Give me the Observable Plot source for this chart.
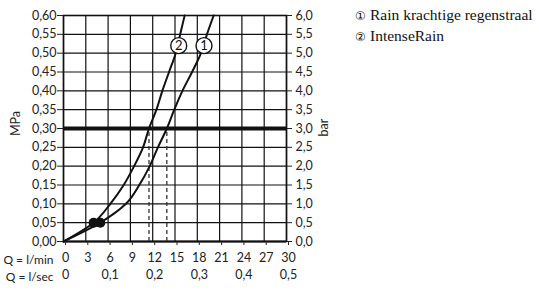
<!DOCTYPE html>
<html>
<head>
<meta charset="utf-8">
<script src="https://cdn.jsdelivr.net/npm/d3@7"></script>
<script src="https://cdn.jsdelivr.net/npm/@observablehq/plot@0.6"></script>
<style>
  body { margin: 0; background: #fff; }
  #wrap { position: relative; width: 539px; height: 292px; }
  #legend { position: absolute; left: 355px; top: 5px; font-family: "Liberation Serif", serif; font-size: 15.5px; color: #111; line-height: 19px; white-space: nowrap; }
  #legend .n { font-size: 12px; margin-right: 4px; }
</style>
</head>
<body>
<div id="wrap">
  <div id="chart"></div>
  <div id="legend"></div>
</div>
<script>
// Series: flow Q (l/min) vs pressure p (MPa)
const series1Name = "Rain krachtige regenstraal";
const series1Q = [0, 4.95, 8.4, 10.2, 11.6, 12.7, 13.9, 14.9, 16.0, 17.3, 18.5, 19.3, 20.2];
const series1P = [0, 0.05, 0.10, 0.15, 0.20, 0.25, 0.30, 0.35, 0.40, 0.45, 0.50, 0.55, 0.60];
const series2Name = "IntenseRain";
const series2Q = [0, 4.05, 6.3, 8.1, 9.5, 10.7, 11.5, 12.5, 13.3, 14.2, 15.1, 15.7, 16.3];
const series2P = [0, 0.05, 0.10, 0.15, 0.20, 0.25, 0.30, 0.35, 0.40, 0.45, 0.50, 0.55, 0.60];
// marker dots at 0.05 MPa
const markerQ = [4.05, 4.95];
const markerP = [0.05, 0.05];
// working pressure and corresponding flows
const refPressure = 0.30;
const refFlowQ = [11.5, 13.9];
// curve label circles
const labelText = ["2", "1"];
const labelQ = [15.5, 18.9];
const labelP = [0.52, 0.52];
// ticks
const qTicks = [0, 3, 6, 9, 12, 15, 18, 21, 24, 27, 30];
const secTicks = [0, 6, 12, 18, 24, 30];
const secLabels = ["0", "0,1", "0,2", "0,3", "0,4", "0,5"];
const mpaTicks = [0, 0.05, 0.10, 0.15, 0.20, 0.25, 0.30, 0.35, 0.40, 0.45, 0.50, 0.55, 0.60];

const s1 = series1Q.map((q, i) => ({q, p: series1P[i]}));
const s2 = series2Q.map((q, i) => ({q, p: series2P[i]}));
const markers = markerQ.map((q, i) => ({q, p: markerP[i]}));
const labels = labelQ.map((q, i) => ({q, p: labelP[i], t: labelText[i]}));
const secMap = new Map(secTicks.map((t, i) => [t, secLabels[i]]));
const comma = s => s.replace(".", ",");

const font = "Lato, sans-serif";
const chart = Plot.plot({
  width: 539,
  height: 292,
  marginLeft: 63,
  marginRight: 253,
  marginTop: 15,
  marginBottom: 51,
  style: { fontFamily: font, fontSize: "12px", color: "#222", background: "#fff" },
  x: { domain: [0, 30] },
  y: { domain: [0, 0.6] },
  marks: [
    Plot.gridX(qTicks, { stroke: "#111", strokeOpacity: 1, strokeWidth: 1.2 }),
    Plot.gridY(mpaTicks, { stroke: "#111", strokeOpacity: 1, strokeWidth: 1.2 }),
    Plot.frame({ stroke: "#111", strokeWidth: 1.6 }),
    Plot.ruleY([0], { stroke: "#111", strokeWidth: 2.2 }),
    Plot.ruleX(refFlowQ, { y1: 0, y2: refPressure, stroke: "#333", strokeWidth: 1.3, strokeDasharray: "4,3" }),
    Plot.ruleY([refPressure], { stroke: "#111", strokeWidth: 4 }),
    Plot.line(s1, { x: "q", y: "p", curve: "monotone-y", stroke: "#111", strokeWidth: 2 }),
    Plot.line(s2, { x: "q", y: "p", curve: "monotone-y", stroke: "#111", strokeWidth: 2 }),
    Plot.dot(markers, { x: "q", y: "p", r: 5, fill: "#111", stroke: "none" }),
    Plot.dot(labels, { x: "q", y: "p", r: 8, fill: "#fff", stroke: "#111", strokeWidth: 1.4 }),
    Plot.text(labels, { x: "q", y: "p", text: "t", fontSize: 13, fill: "#111" }),
    Plot.axisY(mpaTicks, { anchor: "left", tickSize: 6, tickPadding: 1, tickFormat: d => comma(d.toFixed(2)), label: null, fontSize: 12.5 }),
    Plot.axisY(mpaTicks, { anchor: "right", tickSize: 5, tickPadding: 4, tickFormat: d => comma((d * 10).toFixed(1)), label: null, fontSize: 12.5 }),
    Plot.axisX(qTicks, { anchor: "bottom", tickSize: 4, tickPadding: 8, dx: 2, tickFormat: d => String(d), label: null, fontSize: 12.5 }),
    Plot.axisX(secTicks, { anchor: "bottom", tickSize: 0, tickPadding: 29, dx: 2, tickFormat: d => secMap.get(d), label: null, fontSize: 12.5 }),
    Plot.text(["Q = l/min"], { frameAnchor: "bottom-left", textAnchor: "end", lineAnchor: "middle", dx: -10, dy: 19, fontSize: 12 }),
    Plot.text(["Q = l/sec"], { frameAnchor: "bottom-left", textAnchor: "end", lineAnchor: "middle", dx: -10, dy: 36, fontSize: 12 }),
    Plot.text(["MPa"], { frameAnchor: "left", textAnchor: "middle", lineAnchor: "middle", rotate: -90, dx: -48, dy: -5, fontSize: 12.5 }),
    Plot.text(["bar"], { frameAnchor: "right", textAnchor: "middle", lineAnchor: "middle", rotate: -90, dx: 37, dy: -1, fontSize: 12.5 })
  ]
});
document.getElementById("chart").appendChild(chart);
document.getElementById("legend").innerHTML =
  `<div><span class="n">\u2460</span>${series1Name}</div><div><span class="n">\u2461</span>${series2Name}</div>`;
</script>
</body>
</html>
